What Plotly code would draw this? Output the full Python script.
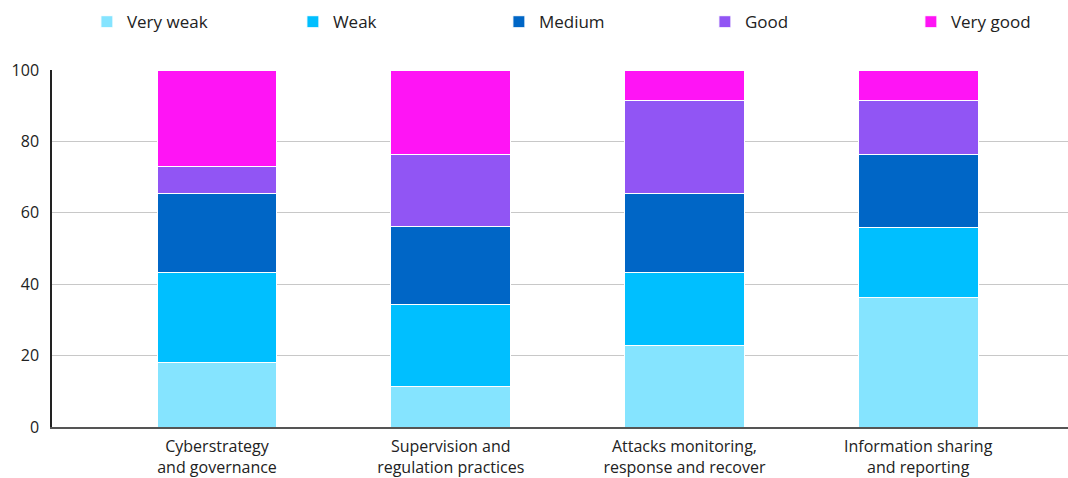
import plotly.graph_objects as go

categories = ["Cyberstrategy<br>and governance", "Supervision and<br>regulation practices",
              "Attacks monitoring,<br>response and recover", "Information sharing<br>and reporting"]
series_names = ["Very weak", "Weak", "Medium", "Good", "Very good"]
very_weak = [18.2, 11.4, 22.8, 36.4]
weak = [25.2, 23.0, 20.6, 19.6]
medium = [22.1, 21.9, 22.0, 20.4]
good = [7.5, 20.1, 26.0, 15.0]
very_good = [27.0, 23.6, 8.6, 8.6]
colors = ["#85E4FF", "#00BFFF", "#0066C6", "#9155F4", "#FF14F5"]

FONT = "Open Sans"
fig = go.Figure()
for name, vals, col in zip(series_names, [very_weak, weak, medium, good, very_good], colors):
    fig.add_trace(go.Bar(x=categories, y=vals, name=name,
                         marker=dict(color=col, line=dict(color="white", width=1)),
                         width=0.513))

fig.update_layout(
    barmode="stack",
    width=1068, height=478,
    margin=dict(l=52, r=0, t=70, b=51, autoexpand=False),
    plot_bgcolor="white", paper_bgcolor="white",
    font=dict(family=FONT, size=16, color="#222"),
    legend=dict(orientation="h", x=-0.0001, xanchor="left", y=1.134, yanchor="middle",
                entrywidth=126, entrywidthmode="pixels", indentation=35,
                font=dict(size=17, color="#222"), traceorder="normal"),
    xaxis=dict(range=[-0.706, 3.641], showline=True, linecolor="#555", linewidth=2,
               ticks="outside", ticklen=4, tickcolor="rgba(0,0,0,0)", showgrid=False,
               tickfont=dict(size=16, color="#222")),
    yaxis=dict(range=[0, 100], dtick=20, showline=True, linecolor="#222", linewidth=1.5,
               showgrid=True, gridcolor="#c8c8c8", gridwidth=1, zeroline=False,
               ticks="outside", ticklen=8, tickcolor="rgba(0,0,0,0)",
               tickfont=dict(size=16, color="#222")),
)
fig.write_html("out.html")
